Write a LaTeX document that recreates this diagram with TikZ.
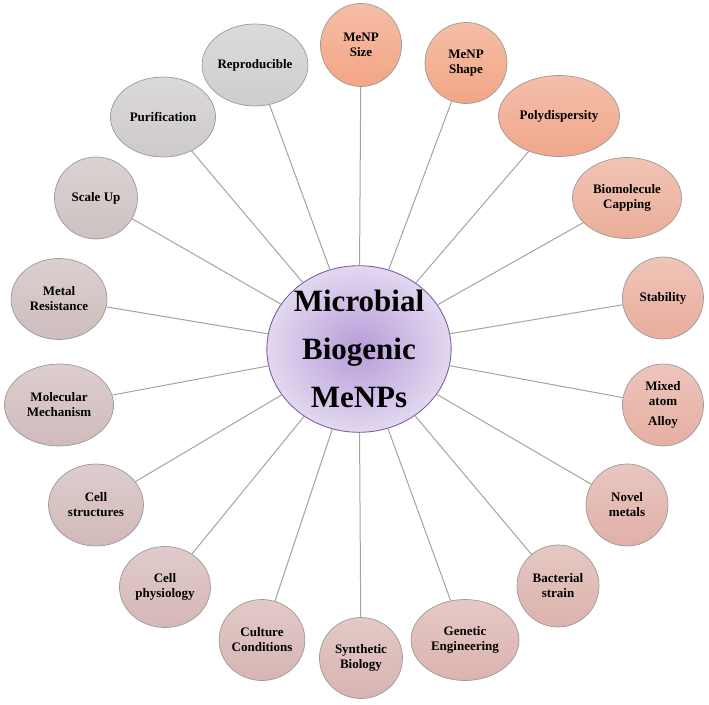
\documentclass[tikz,border=0pt]{standalone}
\usepackage{fontspec}
\setmainfont{Liberation Serif}
\usetikzlibrary{shapes.geometric}
\definecolor{cA}{HTML}{F2A584}
\definecolor{cB}{HTML}{F0A68A}
\definecolor{cC}{HTML}{EBAE98}
\definecolor{cD}{HTML}{E9AD9C}
\definecolor{cE}{HTML}{E6AEA2}
\definecolor{cF}{HTML}{E0B0A8}
\definecolor{cG}{HTML}{DCB2AC}
\definecolor{cH}{HTML}{DBB3AF}
\definecolor{cI}{HTML}{D8B4B1}
\definecolor{cJ}{HTML}{D6B5B3}
\definecolor{cK}{HTML}{D5B7B6}
\definecolor{cL}{HTML}{D2B9B9}
\definecolor{cM}{HTML}{D0BBBB}
\definecolor{cN}{HTML}{CEBDBD}
\definecolor{cO}{HTML}{CDC2C2}
\definecolor{cP}{HTML}{CECACA}
\definecolor{cQ}{HTML}{CDCDCD}
\definecolor{edgegrey}{HTML}{9A9A9A}
\definecolor{linegrey}{HTML}{A3A3A3}
\definecolor{purpin}{HTML}{B79CD8}
\definecolor{purpout}{HTML}{E2D8F0}
\definecolor{purpedge}{HTML}{7E619E}
\tikzset{
  bubble/.style={ellipse, draw=edgegrey, line width=0.7pt, inner sep=0pt,
    align=center, font=\fontsize{13}{15}\selectfont\bfseries,
    top color=#1!72!white, bottom color=#1},
  conn/.style={draw=linegrey, line width=1pt},
  hub/.style={ellipse, draw=purpedge, line width=0.9pt, inner sep=0pt,
    minimum width=169pt, minimum height=144pt, inner color=purpin, outer color=purpout,
    align=center, font=\fontsize{31}{48}\selectfont\bfseries}
}
\begin{document}
\begin{tikzpicture}[x=1pt,y=-1pt]
\useasboundingbox (0,0) rectangle (709,704);
\node[hub] (c) at (359,349) {Microbial\\Biogenic\\MeNPs};
\node[bubble=cA, minimum width=81pt, minimum height=83pt] (n1) at (361,45) {MeNP\\Size};
\node[bubble=cA, minimum width=82pt, minimum height=81pt] (n2) at (466,63) {MeNP\\Shape};
\node[bubble=cB, minimum width=121pt, minimum height=81pt] (n3) at (559,116) {Polydispersity};
\node[bubble=cC, minimum width=109pt, minimum height=81pt] (n4) at (627,198) {Biomolecule\\Capping};
\node[bubble=cD, minimum width=81pt, minimum height=82pt] (n5) at (663,298) {Stability};
\node[bubble=cE, minimum width=81pt, minimum height=82pt] (n6) at (663,405) {Mixed\\atom\\[5pt]Alloy};
\node[bubble=cF, minimum width=82pt, minimum height=82pt] (n7) at (627,505) {Novel\\metals};
\node[bubble=cG, minimum width=82pt, minimum height=82pt] (n8) at (558,586) {Bacterial\\strain};
\node[bubble=cH, minimum width=108pt, minimum height=81pt] (n9) at (465,640) {Genetic\\Engineering};
\node[bubble=cI, minimum width=83pt, minimum height=81pt] (n10) at (361,658) {Synthetic\\Biology};
\node[bubble=cJ, minimum width=82pt, minimum height=81pt] (n11) at (262,640) {Culture\\Conditions};
\node[bubble=cK, minimum width=91pt, minimum height=81pt] (n12) at (165,587) {Cell\\physiology};
\node[bubble=cL, minimum width=95pt, minimum height=82pt] (n13) at (96,505) {Cell\\structures};
\node[bubble=cM, minimum width=109pt, minimum height=82pt] (n14) at (59,405) {Molecular\\Mechanism};
\node[bubble=cN, minimum width=96pt, minimum height=81pt] (n15) at (59,299) {Metal\\Resistance};
\node[bubble=cO, minimum width=83pt, minimum height=82pt] (n16) at (96,198) {Scale Up};
\node[bubble=cP, minimum width=105pt, minimum height=80pt] (n17) at (163,117) {Purification};
\node[bubble=cQ, minimum width=104pt, minimum height=82pt] (n18) at (255,65) {Reproducible};
\foreach \i in {1,...,18} { \draw[conn] (c) -- (n\i); }
\end{tikzpicture}
\end{document}
